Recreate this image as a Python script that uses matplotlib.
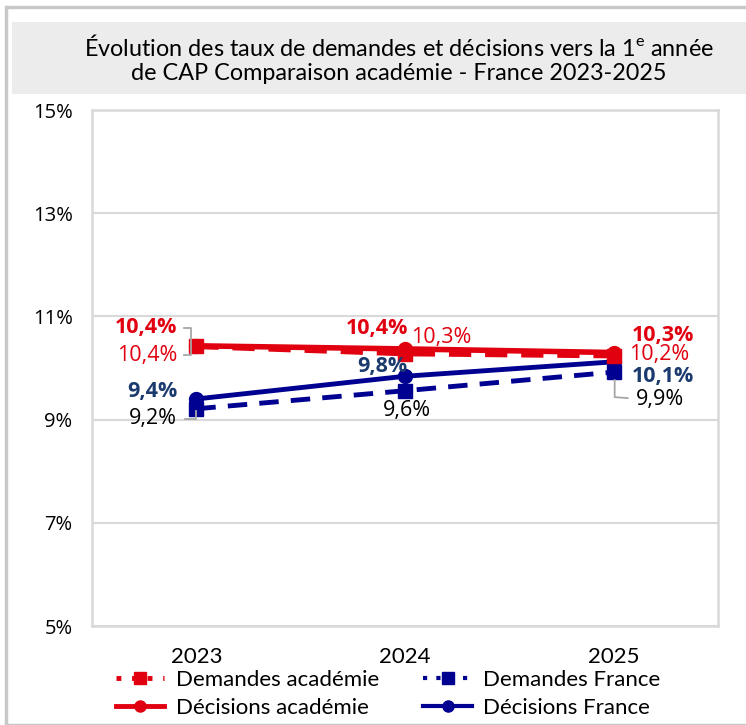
import numpy as np
import matplotlib.pyplot as plt
import matplotlib.transforms as mtransforms
from matplotlib.lines import Line2D
from matplotlib.patches import Rectangle

# data
years = ["2023", "2024", "2025"]
demandes_aca = [10.42, 10.28, 10.24]
decisions_aca = [10.43, 10.37, 10.30]
demandes_fr = [9.21, 9.56, 9.92]
decisions_fr = [9.40, 9.84, 10.12]
yticks = [5, 7, 9, 11, 13, 15]

RED = "#e1000f"
BLUE = "#000091"
NAVY = "#1b3a6e"
GRID = "#d9d9d9"
LABEL_FONT = "Open Sans"
TEXT_FONT = "Lato"

fig = plt.figure(figsize=(7.46, 7.25), dpi=100)

# outer frame and grey title band
fig.patches.append(Rectangle((6/746, 0), 1, 1 - 7/725, transform=fig.transFigure,
                             facecolor="none", edgecolor="#c8c8c8", lw=2.5))
fig.patches.append(Rectangle((12/746, 1 - 94/725), 1, 72/725, transform=fig.transFigure,
                             facecolor="#ececec", edgecolor="none"))
fig.text(0.535, 1 - 59/725,
         "Évolution des taux de demandes et décisions vers la 1$^{\\mathregular{e}}$ année\n"
         "de CAP Comparaison académie - France 2023-2025",
         ha="center", va="center", fontsize=16.8, family=TEXT_FONT, linespacing=1.15)

ax = fig.add_axes([92/746, 1 - 626/725, 626/746, 516/725])
x = np.arange(len(years))

ax.plot(x, demandes_fr, color=BLUE, lw=3.5, ls=(0, (4, 2.5)), marker="s", ms=10, zorder=3)
ax.plot(x, decisions_fr, color=BLUE, lw=3.5, marker="o", ms=10, zorder=3)
ax.plot(x, demandes_aca, color=RED, lw=4, ls=(0, (4, 2.5)), marker="s", ms=10, zorder=4)
ax.plot(x, decisions_aca, color=RED, lw=4, marker="o", ms=10, zorder=4)

ax.set_xlim(-0.5, 2.5)
ax.set_ylim(5, 15)
ax.set_yticks(yticks)
ax.set_yticklabels([f"{v}%" for v in yticks], family=LABEL_FONT, fontsize=14.5)
ax.set_xticks(x)
ax.set_xticklabels(years, family=TEXT_FONT, fontsize=16)
ax.tick_params(length=0, pad=14)
ax.tick_params(axis="x", pad=15)
ax.grid(axis="y", color=GRID, lw=1.5)
ax.set_axisbelow(True)
for s in ax.spines.values():
    s.set_color(GRID)
    s.set_linewidth(1.8)


def fmt(v):
    return f"{v:.1f}%".replace(".", ",")


def lab(i, v, dx, dy, color, bold, ha):
    ax.annotate(fmt(v), (i, v), xytext=(dx, -dy), textcoords="offset pixels",
                ha=ha, va="center", color=color, fontsize=15.5, family=LABEL_FONT,
                fontweight="bold" if bold else "normal", zorder=6)


def leader(i, v, pts):
    tr = ax.transData
    xs, ys = [], []
    for dx, dy in pts:
        t = mtransforms.offset_copy(tr, fig=fig, x=dx, y=-dy, units="dots")
        px, py = t.transform((i, v))
        xs.append(px)
        ys.append(py)
    ax.plot(xs, ys, color="#a6a6a6", lw=1.3, transform=None, zorder=5)


# 2023
lab(0, decisions_aca[0], -19, -18, RED, True, "right")
lab(0, demandes_aca[0], -19, 9, RED, False, "right")
leader(0, decisions_aca[0], [(-12, -18), (-5, -18), (-5, 9), (-12, 9)])
lab(0, decisions_fr[0], -19, -7, NAVY, True, "right")
lab(0, demandes_fr[0], -19, 10, "black", False, "right")
leader(0, demandes_fr[0], [(-11, 10), (0, 10), (0, 2)])
# 2024
lab(1, decisions_aca[1], -28, -20, RED, True, "center")
lab(1, demandes_aca[1], 6, -16, RED, False, "left")
lab(1, decisions_fr[1], -23, -10, NAVY, True, "center")
lab(1, demandes_fr[1], 2, 20, "black", False, "center")
# 2025
lab(2, decisions_aca[2], 18, -17, RED, True, "left")
lab(2, demandes_aca[2], 15, -1, RED, False, "left")
lab(2, decisions_fr[2], 18, 15, NAVY, True, "left")
lab(2, demandes_fr[2], 22, 27, "black", False, "left")
leader(2, demandes_fr[2], [(1, 8), (1, 25), (14, 26)])

# legend proxies (short dashes like the original)
handles = [
    Line2D([], [], color=RED, lw=3.5, ls=(0, (1, 2.2)), marker="s", ms=8),
    Line2D([], [], color=RED, lw=3.5, marker="o", ms=8),
    Line2D([], [], color=BLUE, lw=3, ls=(0, (1, 2.2)), marker="s", ms=8),
    Line2D([], [], color=BLUE, lw=3, marker="o", ms=8),
]
labels = ["Demandes académie", "Décisions académie", "Demandes France", "Décisions France"]
fig.legend(handles, labels, ncol=2, loc="center",
           bbox_to_anchor=(388/746, 1 - 694/725), frameon=False,
           prop={"family": TEXT_FONT, "size": 16}, handlelength=2.2,
           handletextpad=0.5, columnspacing=2.0, labelspacing=0.38)

fig.savefig("out.png", dpi=100)
